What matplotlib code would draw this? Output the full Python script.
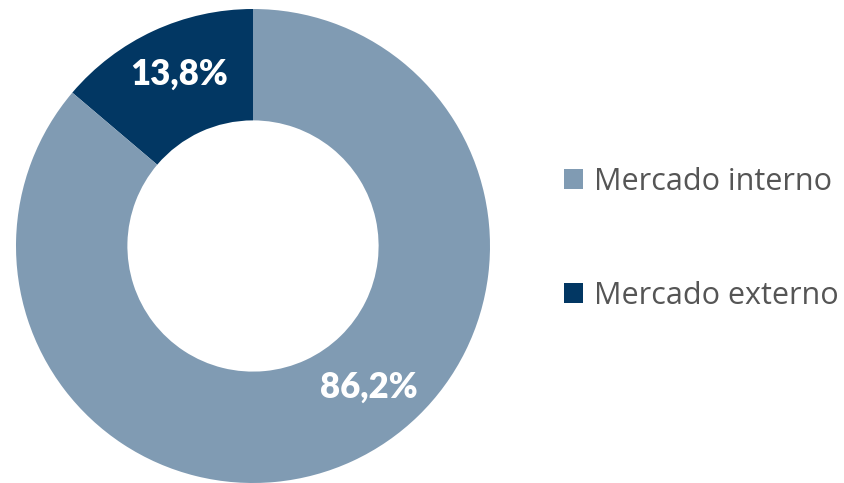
import matplotlib.pyplot as plt
import numpy as np

# data (externo drawn first so it sits just left of 12 o'clock)
labels = ['Mercado externo', 'Mercado interno']
shares = [13.8, 86.2]
colors = ['#023763', '#809BB3']
label_text = ['13,8%', '86,2%']
# label angle (deg) and radius
label_angle = [113.4, -50.8]
label_radius = [0.79, 0.77]

fig = plt.figure(figsize=(8.44, 4.83), dpi=100)
ax = fig.add_axes([16 / 844, 0 / 483, 474 / 844, 474 / 483])

wedges, _ = ax.pie(shares, colors=colors, startangle=90, counterclock=True,
                   radius=1.0, wedgeprops=dict(width=0.47, linewidth=0))
ax.set_xlim(-1, 1)
ax.set_ylim(-1, 1)
ax.set_aspect('equal')
ax.axis('off')

for txt, ang, r in zip(label_text, label_angle, label_radius):
    a = np.deg2rad(ang)
    ax.text(r * np.cos(a), r * np.sin(a), txt, ha='center', va='center',
            color='white', fontsize=25, fontweight='heavy', family='Lato')

# legend: interno on top
handles = [wedges[1], wedges[0]]
leg = fig.legend(handles, [labels[1], labels[0]], loc='center left',
                 bbox_to_anchor=(564 / 844, 1 - 239 / 483), frameon=False,
                 labelspacing=2.75, handlelength=0.62, handleheight=0.62,
                 handletextpad=0.35, borderpad=0, borderaxespad=0,
                 prop={'family': 'Open Sans', 'size': 22})
for t in leg.get_texts():
    t.set_color('#555555')

fig.savefig('out.png', dpi=100)
